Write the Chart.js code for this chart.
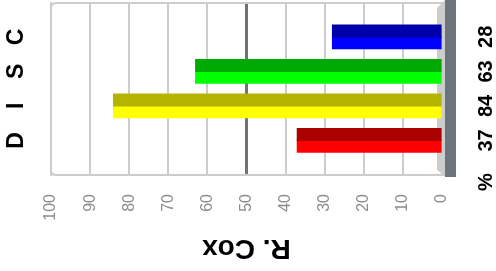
<!DOCTYPE html>
<html>
<head>
<meta charset="utf-8">
<script src="https://cdn.jsdelivr.net/npm/chart.js@4/dist/chart.umd.min.js"></script>
<style>
  html, body { margin: 0; padding: 0; background: #fff; }
  #wrap { width: 496px; height: 271px; }
</style>
</head>
<body>
<div id="wrap"><canvas id="c" width="496" height="271"></canvas></div>
<script>
// ---- data ----
const categories = ['D', 'I', 'S', 'C'];
const values = [37, 84, 63, 28];
const xTicks = [0, 10, 20, 30, 40, 50, 60, 70, 80, 90, 100];
const unitLabel = '%';
const axisTitle = 'R. Cox';
const darkColors = ['#aa0000', '#b4b400', '#00aa00', '#0000aa'];
const brightColors = ['#ff0000', '#ffff00', '#00ff00', '#0000ff'];

const FONT = "'Liberation Sans', Arial, Helvetica, sans-serif";

const points = values.map((v, i) => ({ x: v, y: i }));

const decor = {
  id: 'decor',
  beforeDatasetsDraw(chart) {
    const ctx = chart.ctx;
    const a = chart.chartArea;
    ctx.save();
    // frame
    ctx.strokeStyle = '#cccccc';
    ctx.lineWidth = 2;
    const r = 5;
    const l = a.left, t = a.top + 1, rr = a.right + 6, b = a.bottom - 1;
    ctx.beginPath();
    ctx.moveTo(rr, t);
    ctx.lineTo(l + r, t);
    ctx.quadraticCurveTo(l, t, l, t + r);
    ctx.lineTo(l, b - r);
    ctx.quadraticCurveTo(l, b, l + r, b);
    ctx.lineTo(rr, b);
    ctx.stroke();
    // light wall
    ctx.fillStyle = '#cccccc';
    ctx.beginPath();
    ctx.moveTo(a.right - 5, a.top + 6);
    ctx.lineTo(a.right + 3, a.top - 2);
    ctx.lineTo(a.right + 3, a.bottom);
    ctx.lineTo(a.right - 5, a.bottom - 6);
    ctx.closePath();
    ctx.fill();
    // dark wall
    ctx.fillStyle = '#6b737b';
    ctx.fillRect(a.right + 3, 0, 11, a.bottom + 1);
    ctx.restore();
  },
  afterDraw(chart) {
    const ctx = chart.ctx;
    const a = chart.chartArea;
    const ys = chart.scales.y;
    const xs = chart.scales.x;
    ctx.save();
    ctx.fillStyle = '#000';
    ctx.textAlign = 'center';
    ctx.textBaseline = 'middle';
    // category letters on left
    ctx.font = 'bold 23px ' + FONT;
    categories.forEach((c, i) => {
      const y = ys.getPixelForValue(i);
      ctx.save();
      ctx.translate(17, y);
      ctx.rotate(-Math.PI / 2);
      ctx.fillText(c, 0, 0);
      ctx.restore();
    });
    // values on right
    ctx.font = 'bold 20px ' + FONT;
    values.forEach((v, i) => {
      const y = ys.getPixelForValue(i);
      ctx.save();
      ctx.translate(486, y);
      ctx.rotate(-Math.PI / 2);
      ctx.fillText(String(v), 0, 0);
      ctx.restore();
    });
    ctx.save();
    ctx.translate(486, a.bottom + 6);
    ctx.rotate(-Math.PI / 2);
    ctx.fillText(unitLabel, 0, 0);
    ctx.restore();
    // title upside down
    ctx.font = 'bold 28px ' + FONT;
    ctx.save();
    ctx.translate(xs.getPixelForValue(50), 248);
    ctx.rotate(Math.PI);
    ctx.fillText(axisTitle, 0, 0);
    ctx.restore();
    ctx.restore();
  }
};

new Chart(document.getElementById('c'), {
  type: 'bar',
  data: {
    datasets: [
      { data: points, backgroundColor: darkColors, borderWidth: 0, inflateAmount: 0.6 },
      { data: points, backgroundColor: brightColors, borderWidth: 0, inflateAmount: 0.6 }
    ]
  },
  options: {
    indexAxis: 'y',
    responsive: false,
    animation: false,
    maintainAspectRatio: false,
    layout: { padding: { left: 51, right: 54, top: 2, bottom: 0 } },
    categoryPercentage: 0.68,
    barPercentage: 1,
    plugins: { legend: { display: false }, tooltip: { enabled: false }, title: { display: false } },
    scales: {
      y: {
        type: 'linear',
        display: false,
        offset: false,
        grid: { offset: false },
        min: -1.03,
        max: 4.01
      },
      x: {
        type: 'linear',
        reverse: true,
        min: 0,
        max: 100,
        afterBuildTicks(scale) { scale.ticks = xTicks.map(v => ({ value: v })); },
        afterFit(scale) { scale.height = 95; },
        border: { display: false },
        grid: {
          drawTicks: false,
          color: c => (c.tick && c.tick.value === 50) ? '#6b737b' : '#cccccc',
          lineWidth: c => (c.tick && c.tick.value === 50) ? 3 : 2
        },
        ticks: {
          minRotation: 90,
          maxRotation: 90,
          padding: 18,
          color: '#8c8c8c',
          font: { family: FONT, size: 16 },
          autoSkip: false
        }
      }
    }
  },
  plugins: [decor]
});
</script>
</body>
</html>
